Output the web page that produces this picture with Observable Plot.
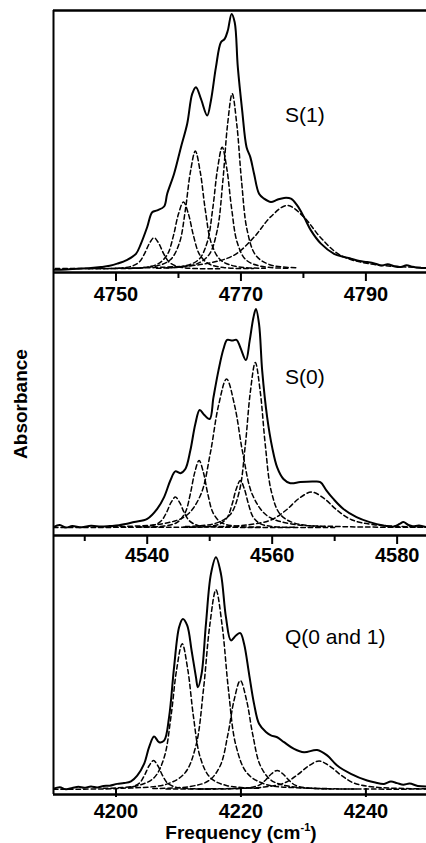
<!DOCTYPE html>
<html><head><meta charset="utf-8">
<script src="https://cdn.jsdelivr.net/npm/d3@7"></script>
<script src="https://cdn.jsdelivr.net/npm/@observablehq/plot@0.6"></script>
<style>
html,body{margin:0;padding:0;background:#fff;}
#wrap{position:relative;width:426px;height:843px;overflow:hidden;background:#fff;}
.panel{position:absolute;left:0;}
.panel svg{overflow:visible;}
#labels{position:absolute;left:0;top:0;}
</style></head><body>
<div id="wrap"></div>
<script>
// ---------- Panel 1 : S(1) ----------
const s1Domain = [4740, 4799.7];
const s1Major = [4750, 4770, 4790];
const s1Minor = [4760, 4780];
const s1Measured = [[4740.0,0.003],[4742.0,0.004],[4744.0,0.006],[4746.0,0.009],[4747.6,0.013],[4749.0,0.018],[4750.2,0.026],[4751.8,0.041],[4753.2,0.064],[4754.0,0.103],[4755.0,0.167],[4755.8,0.224],[4756.6,0.231],[4757.7,0.246],[4758.2,0.295],[4759.3,0.372],[4760.4,0.474],[4761.4,0.564],[4762.2,0.679],[4762.8,0.705],[4763.6,0.660],[4764.6,0.596],[4765.2,0.654],[4766.0,0.782],[4766.8,0.878],[4767.4,0.891],[4767.9,0.923],[4768.5,0.987],[4769.0,0.955],[4769.5,0.782],[4770.2,0.615],[4770.9,0.474],[4771.5,0.436],[4772.1,0.372],[4772.9,0.295],[4773.7,0.276],[4774.8,0.263],[4775.8,0.272],[4776.9,0.279],[4778.0,0.276],[4779.0,0.250],[4780.1,0.205],[4781.2,0.154],[4782.8,0.103],[4784.9,0.064],[4786.5,0.052],[4787.6,0.045],[4789.0,0.036],[4790.2,0.032],[4791.5,0.026],[4792.5,0.019],[4793.5,0.024],[4794.5,0.016],[4795.6,0.013],[4796.5,0.020],[4797.5,0.014],[4798.5,0.010],[4799.7,0.009]];
const s1Components = [
 [[4745.6,0.006],[4750.1,0.008],[4752.35,0.015],[4753.7,0.032],[4754.6,0.066],[4755.35,0.104],[4756.1,0.126],[4756.85,0.104],[4757.6,0.066],[4758.5,0.032],[4759.85,0.015],[4762.1,0.008],[4766.6,0.006]],
 [[4749.6,0.007],[4754.4,0.011],[4756.8,0.026],[4758.24,0.062],[4759.2,0.134],[4760.0,0.217],[4760.8,0.263],[4761.6,0.217],[4762.4,0.134],[4763.36,0.062],[4764.8,0.026],[4767.2,0.011],[4772.0,0.007]],
 [[4751.5,0.008],[4756.3,0.016],[4758.7,0.041],[4760.14,0.105],[4761.1,0.232],[4761.9,0.377],[4762.7,0.459],[4763.5,0.377],[4764.3,0.232],[4765.26,0.105],[4766.7,0.041],[4769.1,0.016],[4773.9,0.008]],
 [[4756.5,0.008],[4761.0,0.017],[4763.25,0.042],[4764.6,0.108],[4765.5,0.240],[4766.25,0.390],[4767.0,0.474],[4767.75,0.390],[4768.5,0.240],[4769.4,0.108],[4770.75,0.042],[4773.0,0.017],[4777.5,0.008]],
 [[4758.1,0.010],[4762.6,0.022],[4764.85,0.059],[4766.2,0.154],[4767.1,0.343],[4767.85,0.559],[4768.6,0.680],[4769.35,0.559],[4770.1,0.343],[4771.0,0.154],[4772.35,0.059],[4774.6,0.022],[4779.1,0.010]],
 [[4740.3,0.007],[4756.2,0.011],[4764.15,0.025],[4768.92,0.059],[4772.1,0.128],[4774.75,0.206],[4777.4,0.250],[4780.05,0.206],[4782.7,0.128],[4785.88,0.059],[4790.65,0.025],[4798.6,0.011],[4799.7,0.010]]
];

// ---------- Panel 2 : S(0) ----------
const s0Domain = [4525, 4584.7];
const s0Major = [4540, 4560, 4580];
const s0Minor = [4530, 4550, 4570];
const s0Measured = [[4525.0,0.032],[4526.0,0.040],[4527.0,0.030],[4528.0,0.036],[4529.5,0.031],[4531.0,0.037],[4532.6,0.034],[4534.0,0.036],[4535.5,0.039],[4537.9,0.051],[4540.0,0.063],[4541.6,0.101],[4542.7,0.146],[4543.7,0.209],[4544.5,0.244],[4545.3,0.237],[4546.1,0.253],[4546.9,0.323],[4547.7,0.424],[4548.4,0.477],[4549.1,0.459],[4550.0,0.443],[4550.6,0.525],[4551.4,0.627],[4552.2,0.709],[4552.8,0.744],[4553.6,0.741],[4554.3,0.744],[4554.9,0.715],[4555.8,0.667],[4556.4,0.741],[4557.0,0.829],[4557.4,0.861],[4557.9,0.804],[4558.4,0.627],[4559.2,0.449],[4560.0,0.335],[4560.8,0.259],[4561.8,0.215],[4562.9,0.199],[4564.5,0.203],[4566.6,0.205],[4567.7,0.203],[4568.7,0.171],[4569.8,0.139],[4571.4,0.101],[4573.5,0.070],[4575.6,0.051],[4577.8,0.038],[4579.5,0.034],[4580.4,0.044],[4581.0,0.051],[4581.8,0.040],[4582.5,0.035],[4583.5,0.038],[4584.7,0.032]];
const s0Components = [
 [[4525.0,0.030],[4534.7,0.031],[4538.9,0.033],[4541.0,0.039],[4542.26,0.056],[4543.1,0.088],[4543.8,0.125],[4544.5,0.146],[4545.2,0.125],[4545.9,0.088],[4546.74,0.056],[4548.0,0.039],[4550.1,0.033],[4554.3,0.031],[4570.0,0.030]],
 [[4538.5,0.032],[4542.7,0.036],[4544.8,0.050],[4546.06,0.086],[4546.9,0.158],[4547.6,0.239],[4548.3,0.285],[4549.0,0.239],[4549.7,0.158],[4550.54,0.086],[4551.8,0.050],[4553.9,0.036],[4558.1,0.032]],
 [[4534.5,0.034],[4542.3,0.044],[4546.2,0.075],[4548.54,0.154],[4550.1,0.313],[4551.4,0.493],[4552.7,0.595],[4554.0,0.493],[4555.3,0.313],[4556.86,0.154],[4559.2,0.075],[4563.1,0.044],[4570.9,0.034],[4584.7,0.031]],
 [[4546.1,0.034],[4550.9,0.046],[4553.3,0.080],[4554.74,0.168],[4555.7,0.344],[4556.5,0.545],[4557.3,0.658],[4558.1,0.545],[4558.9,0.344],[4559.86,0.168],[4561.3,0.080],[4563.7,0.046],[4568.5,0.034]],
 [[4545.8,0.031],[4549.7,0.034],[4551.65,0.044],[4552.82,0.069],[4553.6,0.120],[4554.25,0.177],[4554.9,0.209],[4555.55,0.177],[4556.2,0.120],[4556.98,0.069],[4558.15,0.044],[4560.1,0.034],[4564.0,0.031]],
 [[4538.3,0.031],[4550.3,0.033],[4556.3,0.041],[4559.9,0.060],[4562.3,0.098],[4564.3,0.141],[4566.3,0.165],[4568.3,0.141],[4570.3,0.098],[4572.7,0.060],[4576.3,0.041],[4582.3,0.033],[4584.7,0.032]]
];

// ---------- Panel 3 : Q(0 and 1) ----------
const qDomain = [4190, 4249.7];
const qMajor = [4200, 4220, 4240];
const qMeasured = [[4190.0,0.022],[4191.0,0.028],[4192.0,0.020],[4193.0,0.025],[4194.0,0.030],[4194.9,0.026],[4196.0,0.031],[4197.0,0.027],[4198.0,0.033],[4199.0,0.034],[4200.2,0.041],[4201.3,0.044],[4202.4,0.051],[4203.4,0.073],[4204.5,0.118],[4205.3,0.183],[4206.1,0.224],[4206.9,0.202],[4207.7,0.208],[4208.5,0.299],[4209.3,0.492],[4210.1,0.646],[4210.7,0.678],[4211.4,0.653],[4212.1,0.556],[4212.8,0.453],[4213.1,0.414],[4213.7,0.466],[4214.4,0.659],[4215.2,0.852],[4216.0,0.916],[4216.8,0.852],[4217.6,0.685],[4218.4,0.595],[4219.2,0.614],[4219.9,0.623],[4220.5,0.582],[4221.3,0.466],[4222.1,0.350],[4222.9,0.273],[4224.0,0.241],[4224.8,0.228],[4225.8,0.221],[4226.9,0.202],[4228.5,0.176],[4230.1,0.163],[4232.2,0.172],[4233.8,0.151],[4235.4,0.112],[4237.6,0.080],[4240.2,0.054],[4241.5,0.046],[4242.9,0.041],[4244.0,0.050],[4245.0,0.044],[4246.0,0.038],[4247.0,0.042],[4248.3,0.033],[4249.7,0.031]];
const qComponents = [
 [[4190.0,0.020],[4196.2,0.021],[4200.4,0.023],[4202.5,0.029],[4203.76,0.044],[4204.6,0.076],[4205.3,0.111],[4206.0,0.131],[4206.7,0.111],[4207.4,0.076],[4208.24,0.044],[4209.5,0.029],[4211.6,0.023],[4215.8,0.021]],
 [[4198.0,0.024],[4203.4,0.034],[4206.1,0.065],[4207.72,0.144],[4208.8,0.301],[4209.7,0.481],[4210.6,0.582],[4211.5,0.481],[4212.4,0.301],[4213.48,0.144],[4215.1,0.065],[4217.8,0.034],[4223.2,0.024]],
 [[4202.0,0.025],[4208.0,0.039],[4211.0,0.082],[4212.8,0.189],[4214.0,0.405],[4215.0,0.651],[4216.0,0.790],[4217.0,0.651],[4218.0,0.405],[4219.2,0.189],[4221.0,0.082],[4224.0,0.039],[4230.0,0.025],[4249.7,0.021]],
 [[4205.9,0.023],[4211.9,0.031],[4214.9,0.054],[4216.7,0.112],[4217.9,0.230],[4218.9,0.364],[4219.9,0.440],[4220.9,0.364],[4221.9,0.230],[4223.1,0.112],[4224.9,0.054],[4227.9,0.031],[4233.9,0.023]],
 [[4213.2,0.021],[4218.6,0.022],[4221.3,0.026],[4222.92,0.036],[4224.0,0.057],[4224.9,0.080],[4225.8,0.093],[4226.7,0.080],[4227.6,0.057],[4228.68,0.036],[4230.3,0.026],[4233.0,0.022],[4238.4,0.021]],
 [[4208.0,0.021],[4218.5,0.023],[4223.75,0.029],[4226.9,0.044],[4229.0,0.075],[4230.75,0.109],[4232.5,0.129],[4234.25,0.109],[4236.0,0.075],[4238.1,0.044],[4241.25,0.029],[4246.5,0.023],[4249.7,0.022]]
];

const panelNames = ["S(1)", "S(0)", "Q(0 and 1)"];
const yLabel = "Absorbance";
const xLabel = "Frequency (cm";

const FONT = "'Liberation Sans', Arial, Helvetica, sans-serif";
const wrap = document.getElementById("wrap");

function makePanel(cfg) {
  const xy = {x: d => d[0], y: d => d[1]};
  const marks = [];
  for (const c of cfg.components) {
    marks.push(Plot.line(c, {...xy, stroke: "#000", strokeWidth: 1.5, strokeDasharray: "4.5,3", curve: "catmull-rom", clip: true}));
  }
  marks.push(Plot.line(cfg.measured, {...xy, stroke: "#000", strokeWidth: 2, curve: "catmull-rom", clip: true}));
  marks.push(Plot.ruleX([cfg.xDomain[0]], {stroke: "#000", strokeWidth: 2}));
  marks.push(Plot.ruleY([cfg.yDomain[0]], {stroke: "#000", strokeWidth: 2.6}));
  if (cfg.topLine) marks.push(Plot.ruleY([cfg.yDomain[1]], {stroke: "#000", strokeWidth: 2.4}));
  const fmt = d => String(d);
  if (cfg.inward) {
    marks.push(Plot.tickX(cfg.major, {x: d => d, stroke: "#000", strokeWidth: 2, insetTop: cfg.plotH - 6, insetBottom: -3}));
    marks.push(Plot.axisX(cfg.major, {tickSize: 0, tickPadding: cfg.pad, tickFormat: fmt, fontSize: 20, fontWeight: "bold", label: null}));
  } else {
    marks.push(Plot.axisX(cfg.major, {tickSize: 9, strokeWidth: 2, tickPadding: cfg.pad, tickFormat: fmt, fontSize: 20, fontWeight: "bold", label: null}));
    marks.push(Plot.axisX(cfg.minor, {tickSize: 6, strokeWidth: 2, tickFormat: () => "", label: null}));
  }
  const chart = Plot.plot({
    width: 426,
    height: cfg.height,
    marginLeft: 53, marginRight: 0,
    marginTop: cfg.mt, marginBottom: cfg.height - cfg.mt - cfg.plotH,
    style: {background: "transparent", overflow: "visible", fontFamily: FONT, color: "#000"},
    x: {domain: cfg.xDomain},
    y: {domain: cfg.yDomain, axis: null},
    marks
  });
  const div = document.createElement("div");
  div.className = "panel";
  div.style.top = cfg.top + "px";
  div.appendChild(chart);
  wrap.appendChild(div);
}

makePanel({top: 0, height: 300, mt: 10, plotH: 262, xDomain: s1Domain, yDomain: [-0.008, 1], major: s1Major, minor: s1Minor, measured: s1Measured, components: s1Components, topLine: true, pad: 5});
makePanel({top: 262, height: 300, mt: 10, plotH: 263, xDomain: s0Domain, yDomain: [0, 1], major: s0Major, minor: s0Minor, measured: s0Measured, components: s0Components, pad: 3});
makePanel({top: 525, height: 318, mt: 10, plotH: 259, xDomain: qDomain, yDomain: [0, 1], major: qMajor, minor: [], measured: qMeasured, components: qComponents, inward: true, pad: 9});

// text overlay
const ns = "http://www.w3.org/2000/svg";
const ov = document.createElementNS(ns, "svg");
ov.setAttribute("id", "labels");
ov.setAttribute("width", 426);
ov.setAttribute("height", 843);
ov.style.fontFamily = FONT;
function addText(str, x, y, opts = {}) {
  const t = document.createElementNS(ns, "text");
  t.setAttribute("x", x); t.setAttribute("y", y);
  t.setAttribute("font-size", opts.size || 21);
  if (opts.weight) t.setAttribute("font-weight", opts.weight);
  if (opts.anchor) t.setAttribute("text-anchor", opts.anchor);
  if (opts.transform) t.setAttribute("transform", opts.transform);
  t.textContent = str;
  ov.appendChild(t);
  return t;
}
addText(panelNames[0], 285, 122, {size: 21});
addText(panelNames[1], 285, 384, {size: 21});
addText(panelNames[2], 285, 644, {size: 21});
addText(yLabel, 0, 0, {size: 19, weight: "bold", anchor: "middle", transform: "translate(27,404) rotate(-90)"});
const fx = addText(xLabel, 241, 839, {size: 19, weight: "bold", anchor: "middle"});
const sup = document.createElementNS(ns, "tspan");
sup.setAttribute("dy", -8); sup.setAttribute("font-size", 11); sup.textContent = "-1";
const close = document.createElementNS(ns, "tspan");
close.setAttribute("dy", 8); close.textContent = ")";
fx.appendChild(sup); fx.appendChild(close);
wrap.appendChild(ov);
</script>
</body></html>
